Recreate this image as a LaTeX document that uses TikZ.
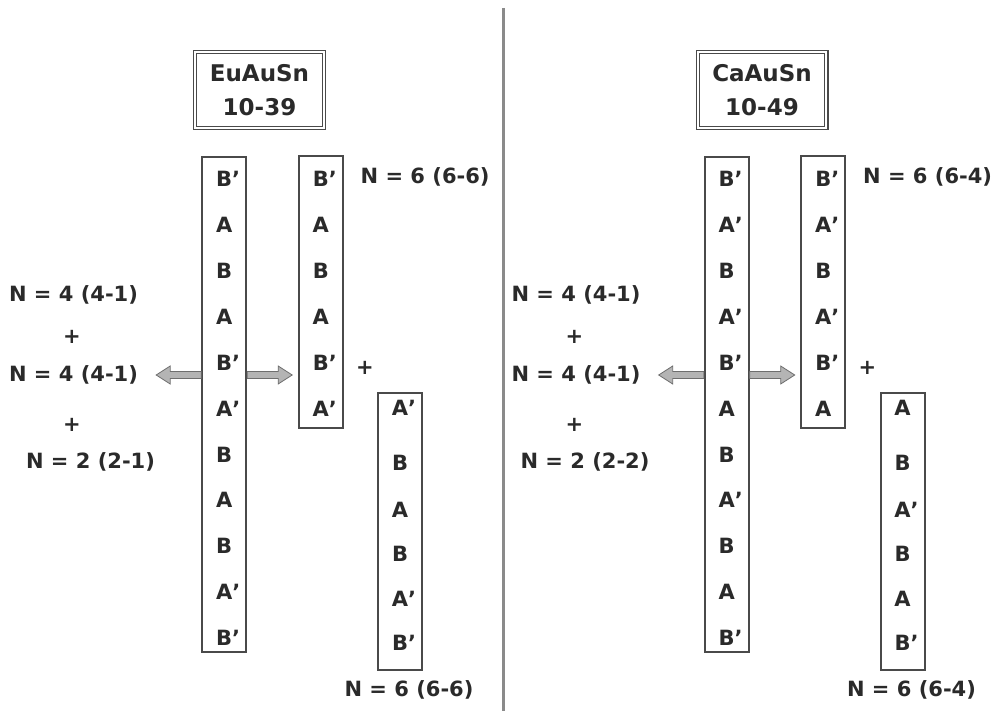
\documentclass[tikz,border=0pt]{standalone}
\usepackage{fontspec}
\setmainfont{DejaVu Sans}
\usetikzlibrary{calc}
\definecolor{txt}{HTML}{2A2A2A}
\definecolor{boxc}{HTML}{4A4A4A}
\definecolor{arrf}{HTML}{B4B4B4}
\definecolor{arrd}{HTML}{6E6E6E}
\definecolor{divc}{HTML}{8A8A8A}
\newcommand\prm{\rlap{'}}
\tikzset{
  lbl/.style={font=\fontsize{21}{21}\selectfont\bfseries, text=txt, inner sep=0pt},
  ttl/.style={font=\fontsize{23}{34}\selectfont\bfseries, text=txt, align=center,
    draw=boxc, double=white, double distance=2pt, line width=1.2pt,
    minimum width=128.6pt, minimum height=75.6pt, inner sep=0pt},
  colbox/.style={draw=boxc, line width=2pt, minimum width=44pt, inner sep=0pt},
  fatarr/.style={draw=arrd, fill=arrf, line width=0.8pt},
  divider/.style={draw=divc, line width=3pt},
}
% #1 prefix, #2 title, #3 main list, #4 second list, #5 lower list (letter/y),
% #6 N=6 text, #7 N=2 text, #8 N=2 x
\newcommand\drawpanel[8]{%
  \node[ttl] (#1T) at (259.5,90) {#2};
  \node[colbox, minimum height=495pt] (#1M) at (224.2,404.2) {};
  \foreach \t [count=\i from 0] in {#3}
    \node[lbl] (#1M\i) at (224.2,179+45.9*\i) {\t};
  \node[colbox, minimum height=272pt] (#1S) at (320.8,292) {};
  \foreach \t [count=\i from 0] in {#4}
    \node[lbl] (#1S\i) at (320.8,179+45.9*\i) {\t};
  \node[lbl] (#1P) at (365,368) {+};
  \node[colbox, minimum height=277pt] (#1D) at (400,531.5) {};
  \foreach \t/\y [count=\i from 0] in {#5}
    \node[lbl] (#1D\i) at (400,\y) {\t};
  \node[lbl] (#1a) at (73.5,295) {N = 4 (4-1)};
  \node[lbl] (#1b) at (72,337) {+};
  \node[lbl] (#1c) at (73.5,375) {N = 4 (4-1)};
  \node[lbl] (#1d) at (72,425) {+};
  \node[lbl] (#1e) at (#8,462) {#7};
  \node[lbl, anchor=west] (#1f) at (360.5,177) {#6};
  \node[lbl] (#1g) at (409,690) {#6};
  \filldraw[fatarr] (#1M.west |- arrowlevel) ++(0,-3.5) -- ++(-31,0) -- ++(0,-5.5)
    -- ++(-14,9) -- ++(14,9) -- ++(0,-5.5) -- ++(31,0) -- cycle;
  \filldraw[fatarr] (#1M.east |- arrowlevel) ++(0,-3.5) -- ++(31,0) -- ++(0,-5.5)
    -- ++(14,9) -- ++(-14,9) -- ++(0,-5.5) -- ++(-31,0) -- cycle;
}
\begin{document}
\begin{tikzpicture}[x=1pt,y=-1pt]
\useasboundingbox (0,0) rectangle (994,711);
\fill[white] (0,0) rectangle (994,711);
\coordinate (arrowlevel) at (0,375);
\drawpanel{L}{EuAuSn\\10-39}
  {B\prm,A,B,A,B\prm,A\prm,B,A,B,A\prm,B\prm}
  {B\prm,A,B,A,B\prm,A\prm}
  {A\prm/408,B/463,A/510,B/554,A\prm/599,B\prm/643}
  {N = 6 (6-6)}{N = 2 (2-1)}{90.5}
\begin{scope}[xshift=502.5pt]
\drawpanel{R}{CaAuSn\\10-49}
  {B\prm,A\prm,B,A\prm,B\prm,A,B,A\prm,B,A,B\prm}
  {B\prm,A\prm,B,A\prm,B\prm,A}
  {A/408,B/463,A\prm/510,B/554,A/599,B\prm/643}
  {N = 6 (6-4)}{N = 2 (2-2)}{82.5}
\end{scope}
\coordinate (dtop) at (503,8);
\coordinate (dbot) at (503,711);
\draw[divider] (dtop) -- (dbot);
\end{tikzpicture}
\end{document}
